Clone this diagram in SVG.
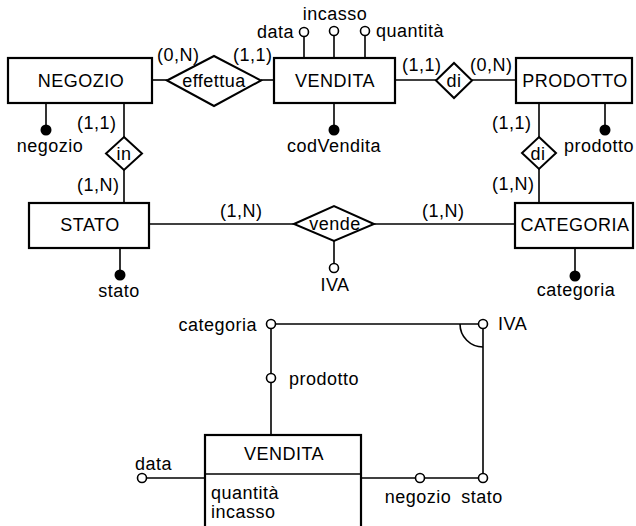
<svg xmlns="http://www.w3.org/2000/svg" width="636" height="526" viewBox="0 0 636 526">
<style>
text{font-family:"Liberation Sans",Arial,sans-serif;font-size:18px;letter-spacing:0.5px;fill:#000}
.m{text-anchor:middle}
.e{text-anchor:end}
.box{fill:#fff;stroke:#000;stroke-width:2.2}
.dia{fill:#fff;stroke:#000;stroke-width:2}
.ln{fill:none;stroke:#000;stroke-width:1.6}
.oc{fill:#fff;stroke:#000;stroke-width:1.6}
.fc{fill:#000;stroke:none}
</style>
<rect width="636" height="526" fill="#fff"/>
<g id="connectors">
<line class="ln" x1="152" y1="80" x2="167" y2="80"/>
<line class="ln" x1="261" y1="80" x2="274" y2="80"/>
<line class="ln" x1="395" y1="80" x2="436" y2="80"/>
<line class="ln" x1="472" y1="80" x2="516" y2="80"/>
<line class="ln" x1="124" y1="103" x2="124" y2="137"/>
<line class="ln" x1="124" y1="170" x2="124" y2="203"/>
<line class="ln" x1="539" y1="103" x2="539" y2="137"/>
<line class="ln" x1="539" y1="169" x2="539" y2="203"/>
<line class="ln" x1="149" y1="224" x2="294" y2="224"/>
<line class="ln" x1="374" y1="224" x2="515" y2="224"/>
<line class="ln" x1="304" y1="36.5" x2="304" y2="58"/>
<line class="ln" x1="334" y1="35.5" x2="334" y2="58"/>
<line class="ln" x1="365" y1="35.5" x2="365" y2="58"/>
<line class="ln" x1="334" y1="103" x2="334" y2="126"/>
<line class="ln" x1="46" y1="103" x2="46" y2="126"/>
<line class="ln" x1="605" y1="103" x2="605" y2="126"/>
<line class="ln" x1="120" y1="248" x2="120" y2="271"/>
<line class="ln" x1="575" y1="248" x2="575" y2="272"/>
<line class="ln" x1="334" y1="241" x2="334" y2="263.5"/>
<text x="157" y="61">(0,N)</text>
<text x="233" y="61">(1,1)</text>
<text x="402" y="71">(1,1)</text>
<text x="470" y="71">(0,N)</text>
<text x="77" y="129">(1,1)</text>
<text x="77" y="191">(1,N)</text>
<text x="492" y="129">(1,1)</text>
<text x="492" y="190">(1,N)</text>
<text x="220" y="217">(1,N)</text>
<text x="422" y="217">(1,N)</text>
</g>
<g id="NEGOZIO"><rect class="box" x="8" y="58" width="144" height="45"/><text class="m" x="81" y="87">NEGOZIO</text></g>
<g id="effettua"><polygon class="dia" points="167,80.5 214,56 261,80.5 214,106"/><text class="m" x="214" y="87">effettua</text></g>
<g id="VENDITA"><rect class="box" x="274" y="58" width="121" height="45"/><text class="m" x="335" y="87">VENDITA</text></g>
<g id="di1"><polygon class="dia" points="436,80.5 454,63 472,80.5 454,98"/><text class="m" x="454" y="87">di</text></g>
<g id="PRODOTTO"><rect class="box" x="516" y="58" width="116" height="45"/><text class="m" x="575" y="87">PRODOTTO</text></g>
<g id="in"><polygon class="dia" points="124,137 142,153.5 124,170 106,153.5"/><text class="m" x="124" y="160">in</text></g>
<g id="di2"><polygon class="dia" points="539,137 556,153 539,169 522,153"/><text class="m" x="538" y="160">di</text></g>
<g id="STATO"><rect class="box" x="29" y="203" width="120" height="45"/><text class="m" x="90" y="231">STATO</text></g>
<g id="vende"><polygon class="dia" points="294,224 334,206 374,224 334,241"/><text class="m" x="335" y="230">vende</text></g>
<g id="CATEGORIA"><rect class="box" x="515" y="203" width="118" height="45"/><text class="m" x="575" y="231">CATEGORIA</text></g>
<g id="attr-data"><circle class="oc" cx="304" cy="32" r="4.5"/><text class="e" x="294" y="38">data</text></g>
<g id="attr-incasso"><circle class="oc" cx="334" cy="31" r="4.5"/><text class="m" x="335" y="20">incasso</text></g>
<g id="attr-quantita"><circle class="oc" cx="365" cy="31" r="4.5"/><text x="376" y="37">quantità</text></g>
<g id="attr-codVendita"><circle class="fc" cx="334" cy="130" r="5.5"/><text class="m" x="334" y="152">codVendita</text></g>
<g id="attr-negozio"><circle class="fc" cx="46" cy="130" r="5.5"/><text class="m" x="50" y="152">negozio</text></g>
<g id="attr-prodotto"><circle class="fc" cx="605" cy="130" r="5.5"/><text x="564" y="152">prodotto</text></g>
<g id="attr-stato"><circle class="fc" cx="120" cy="275" r="5.5"/><text class="m" x="119" y="297">stato</text></g>
<g id="attr-IVA"><circle class="oc" cx="334" cy="268" r="4.5"/><text class="m" x="335" y="291">IVA</text></g>
<g id="attr-categoria"><circle class="fc" cx="575" cy="276" r="5.5"/><text class="m" x="576" y="296">categoria</text></g>
<g id="fact-connectors">
<line class="ln" x1="275.5" y1="324" x2="478.5" y2="324"/>
<line class="ln" x1="271" y1="328.5" x2="271" y2="373.5"/>
<line class="ln" x1="271" y1="382.5" x2="271" y2="435"/>
<line class="ln" x1="146.5" y1="478" x2="205" y2="478"/>
<line class="ln" x1="361" y1="478" x2="415.5" y2="478"/>
<line class="ln" x1="424.5" y1="478" x2="478.5" y2="478"/>
<line class="ln" x1="483" y1="328.5" x2="483" y2="473.5"/>
<path class="ln" d="M460 324 A23 23 0 0 0 483 347"/>
</g>
<g id="fact-VENDITA"><rect class="box" x="205" y="435" width="156" height="100"/><line class="ln" x1="205" y1="474" x2="361" y2="474" stroke-width="2"/><text class="m" x="284" y="460">VENDITA</text><text x="211" y="499">quantità</text><text x="211" y="518">incasso</text></g>
<g id="dim-categoria"><circle class="oc" cx="271" cy="324" r="4.5"/><text class="e" x="257" y="331">categoria</text></g>
<g id="dim-prodotto"><circle class="oc" cx="271" cy="378" r="4.5"/><text x="289" y="385">prodotto</text></g>
<g id="dim-IVA"><circle class="oc" cx="483" cy="324" r="4.5"/><text x="498" y="330">IVA</text></g>
<g id="dim-data"><circle class="oc" cx="142" cy="478" r="4.5"/><text x="135" y="470">data</text></g>
<g id="dim-negozio"><circle class="oc" cx="420" cy="478" r="4.5"/><text class="m" x="418" y="503">negozio</text></g>
<g id="dim-stato"><circle class="oc" cx="483" cy="478" r="4.5"/><text class="m" x="482" y="503">stato</text></g>
</svg>
